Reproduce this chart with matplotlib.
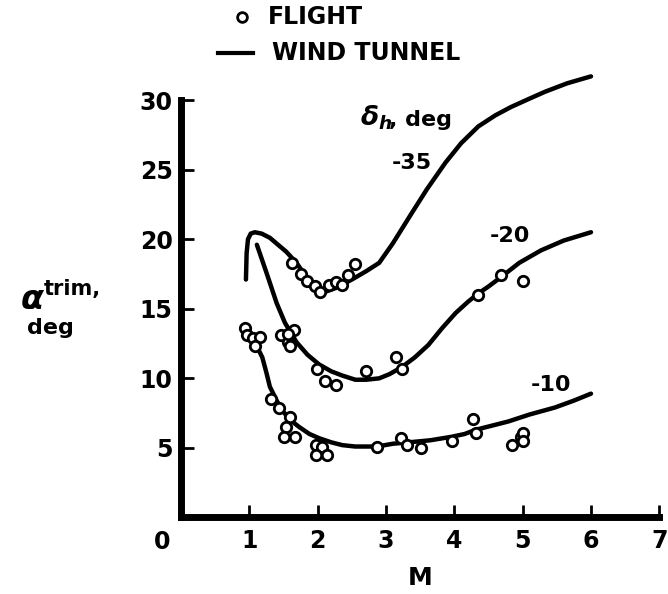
import numpy as np
import matplotlib.pyplot as plt

# wind tunnel trim curves, one per elevon setting (M, alpha_trim)
m_35 = [0.95, 0.96, 0.98, 1.02, 1.08, 1.18, 1.30, 1.42, 1.54, 1.69, 1.83, 1.98, 2.10,
        2.27, 2.50, 2.71, 2.90, 3.10, 3.38, 3.60, 3.87, 4.10, 4.35, 4.60, 4.83, 5.10,
        5.33, 5.65, 6.00]
a_35 = [17.1, 19.0, 20.0, 20.4, 20.5, 20.4, 20.1, 19.6, 19.1, 18.3, 17.3, 16.5, 16.2,
        16.5, 17.1, 17.7, 18.3, 19.7, 21.9, 23.6, 25.5, 26.9, 28.1, 28.9, 29.5, 30.1,
        30.6, 31.2, 31.7]

m_20 = [1.11, 1.25, 1.40, 1.52, 1.69, 1.85, 2.02, 2.20, 2.36, 2.55, 2.71, 2.90, 3.05,
        3.23, 3.42, 3.62, 3.82, 4.02, 4.20, 4.35, 4.50, 4.69, 4.95, 5.27, 5.60, 6.00]
a_20 = [19.6, 17.6, 15.4, 14.0, 12.6, 11.7, 11.0, 10.5, 10.2, 9.9, 9.9, 10.0, 10.3,
        10.8, 11.5, 12.4, 13.6, 14.7, 15.5, 16.1, 16.6, 17.3, 18.3, 19.2, 19.9, 20.5]

m_10 = [1.10, 1.19, 1.25, 1.30, 1.40, 1.48, 1.60, 1.73, 1.88, 2.02, 2.20, 2.36, 2.55,
        2.71, 2.87, 3.10, 3.33, 3.65, 3.96, 4.15, 4.31, 4.55, 4.79, 5.10, 5.47, 5.75,
        6.00]
a_10 = [12.4, 11.5, 10.4, 9.4, 8.4, 7.7, 7.0, 6.5, 6.0, 5.7, 5.4, 5.2, 5.1,
        5.1, 5.1, 5.3, 5.4, 5.55, 5.8, 6.0, 6.3, 6.6, 6.9, 7.4, 7.9, 8.4,
        8.9]

# flight data points
fm_35 = [1.63, 1.75, 1.85, 1.96, 2.03, 2.17, 2.27, 2.35, 2.44, 2.55]
fa_35 = [18.3, 17.5, 17.0, 16.6, 16.2, 16.7, 16.9, 16.7, 17.4, 18.2]

fm_20 = [1.47, 1.56, 1.66, 1.56, 1.59, 1.99, 2.11, 2.27, 2.71, 3.14, 3.23, 4.34, 4.69, 5.00]
fa_20 = [13.1, 12.6, 13.5, 13.2, 12.3, 10.7, 9.8, 9.5, 10.5, 11.5, 10.7, 16.0, 17.4, 17.0]

fm_10 = [0.93, 0.96, 1.05, 1.15, 1.08, 1.32, 1.43, 1.59, 1.53, 1.51, 1.67, 1.98, 2.07,
         1.98, 2.13, 2.87, 3.22, 3.30, 3.51, 3.97, 4.28, 4.31, 4.85, 4.98, 5.00, 5.00]
fa_10 = [13.6, 13.1, 12.9, 13.0, 12.3, 8.5, 7.9, 7.2, 6.5, 5.8, 5.8, 5.2, 5.1,
         4.5, 4.5, 5.07, 5.7, 5.2, 5.0, 5.5, 7.1, 6.1, 5.2, 5.8, 6.1, 5.5]

curve_labels = ["-35", "-20", "-10"]
label_pos = [(3.38, 25.5), (4.82, 20.2), (5.41, 9.5)]

plt.rcParams["font.family"] = "DejaVu Sans"
plt.rcParams["font.weight"] = "bold"

fig = plt.figure(figsize=(6.68, 5.94), dpi=100)
ax = fig.add_axes([0.271, 0.1288, 0.716, 0.7028])

for m, a in [(m_35, a_35), (m_20, a_20), (m_10, a_10)]:
    ax.plot(m, a, color="black", linewidth=3.2, solid_capstyle="round",
            solid_joinstyle="round", clip_on=False)

for m, a in [(fm_35, fa_35), (fm_20, fa_20), (fm_10, fa_10)]:
    ax.plot(m, a, linestyle="none", marker="o", markersize=7.5,
            markerfacecolor="white", markeredgecolor="black",
            markeredgewidth=2.0, clip_on=False, zorder=3)

for txt, (x, y) in zip(curve_labels, label_pos):
    ax.text(x, y, txt, fontsize=16, fontweight="bold", ha="center", va="center")

ax.text(2.62, 28.7, r"$\delta_h$", fontsize=19, ha="left", va="center")
ax.text(3.05, 28.6, ", deg", fontsize=16, fontweight="bold", ha="left", va="center")

ax.set_xlim(0, 7)
ax.set_ylim(0, 30)
ax.set_xticks(range(1, 8))
ax.set_yticks(range(5, 31, 5))
ax.tick_params(direction="in", length=9, width=2, labelsize=17, pad=8)
ax.tick_params(axis="y", pad=6)
for s in ["top", "right"]:
    ax.spines[s].set_visible(False)
for s in ["left", "bottom"]:
    ax.spines[s].set_linewidth(5)
ax.text(-0.28, -0.9, "0", fontsize=17, fontweight="bold", ha="center", va="top")
ax.set_xlabel("M", fontsize=18, fontweight="bold", labelpad=10)

# y label
fig.text(0.030, 0.495, r"$\alpha$", fontsize=24, ha="left", va="center")
fig.text(0.066, 0.514, "trim,", fontsize=15, fontweight="bold", ha="left", va="center")
fig.text(0.040, 0.447, "deg", fontsize=16, fontweight="bold", ha="left", va="center")

# legend drawn by hand, like the original
fig.lines.append(plt.Line2D([0.362], [0.971], transform=fig.transFigure, marker="o",
                            markersize=7, markerfacecolor="white",
                            markeredgecolor="black", markeredgewidth=2))
fig.text(0.401, 0.971, "FLIGHT", fontsize=17, fontweight="bold", ha="left", va="center")
fig.lines.append(plt.Line2D([0.326, 0.379], [0.911, 0.911], transform=fig.transFigure,
                            color="black", linewidth=3))
fig.text(0.407, 0.911, "WIND TUNNEL", fontsize=17, fontweight="bold", ha="left", va="center")

fig.savefig("out.png", dpi=100)
